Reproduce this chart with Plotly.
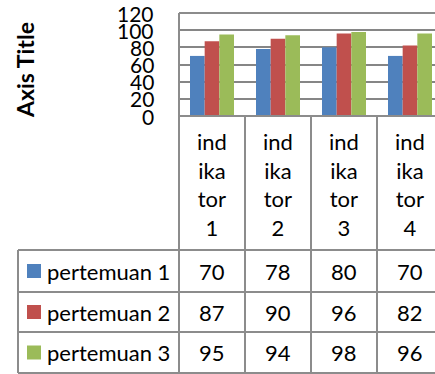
import plotly.graph_objects as go

# Chart data
categories = ["indikator 1", "indikator 2", "indikator 3", "indikator 4"]
series_names = ["pertemuan 1", "pertemuan 2", "pertemuan 3"]
pertemuan_1 = [70, 78, 80, 70]
pertemuan_2 = [87, 90, 96, 82]
pertemuan_3 = [95, 94, 98, 96]
y_ticks = [0, 20, 40, 60, 80, 100, 120]
axis_title = "Axis Title"

series_values = [pertemuan_1, pertemuan_2, pertemuan_3]
colors = ["#4F81BD", "#C0504D", "#9BBB59"]

# Page geometry (pixels)
W, H = 435, 374
PLOT_L, PLOT_T, PLOT_B = 179, 13, 116
COL_W = 66
TABLE_L = 18
ROW_LINES = [250, 292, 332, 373]
LINE_C = "#8C8C8C"
GRID_C = "#868686"
FONT = "Lato"
FS = 22


def px(x):
    return x / W


def py(y):
    return 1 - y / H


def wrap_label(text):
    word, num = text.split(" ")
    parts = [word[i:i + 3] for i in range(0, len(word), 3)]
    return "<br>".join(parts + [num])


x_idx = list(range(len(categories)))
x_max = -0.5 + (W - PLOT_L) / COL_W

fig = go.Figure()
for name, vals, col in zip(series_names, series_values, colors):
    fig.add_trace(go.Bar(x=x_idx, y=vals, name=name, marker=dict(color=col, line=dict(width=0))))

fig.update_layout(
    width=W, height=H,
    margin=dict(l=0, r=0, t=0, b=0),
    paper_bgcolor="white", plot_bgcolor="white",
    showlegend=False,
    barmode="group", bargap=1 / 3, bargroupgap=0,
    font=dict(family=FONT, size=FS, color="black"),
    xaxis=dict(domain=[px(PLOT_L), 1], range=[-0.5, x_max], showticklabels=False,
               showgrid=False, zeroline=False, showline=False, fixedrange=True),
    yaxis=dict(domain=[py(PLOT_B), py(PLOT_T)], range=[0, 120], tickvals=y_ticks,
               showticklabels=False, showgrid=True, gridcolor=GRID_C,
               gridwidth=1.5, zeroline=False, showline=False, ticks=""),
)

shapes = []


def hline(y, x0, x1, w=2):
    shapes.append(dict(type="line", xref="paper", yref="paper", x0=px(x0), x1=px(x1),
                       y0=py(y), y1=py(y), line=dict(color=LINE_C, width=w)))


def vline(x, y0, y1, w=2):
    shapes.append(dict(type="line", xref="paper", yref="paper", x0=px(x), x1=px(x),
                       y0=py(y0), y1=py(y1), line=dict(color=LINE_C, width=w)))


# plot frame top and axis
hline(PLOT_T, PLOT_L, W)
hline(PLOT_B, PLOT_L, W)
vline(PLOT_L, PLOT_T, ROW_LINES[-1])
# data table grid
for y in ROW_LINES:
    hline(y, TABLE_L, W)
vline(TABLE_L, ROW_LINES[0], ROW_LINES[-1])
for i in range(1, len(categories)):
    xb = PLOT_L + i * COL_W
    if xb < W:
        vline(xb, PLOT_B, ROW_LINES[-1])

annotations = []
# value axis labels
for t in y_ticks:
    annotations.append(dict(x=px(156), xref="paper", y=t, yref="y", text=str(t),
                            showarrow=False, xanchor="right", yanchor="middle",
                            font=dict(family=FONT, size=21, color="black")))
# column headers
for i, c in enumerate(categories):
    annotations.append(dict(x=i, xref="x", y=py(184), yref="paper",
                            text=wrap_label(c), showarrow=False, xanchor="center",
                            yanchor="middle", align="center",
                            font=dict(family=FONT, size=FS, color="black")))
# table rows
for r, (name, vals, col) in enumerate(zip(series_names, series_values, colors)):
    yc = (ROW_LINES[r] + ROW_LINES[r + 1]) / 2
    shapes.append(dict(type="rect", xref="paper", yref="paper", x0=px(27), x1=px(41),
                       y0=py(yc + 7), y1=py(yc - 7), fillcolor=col, line=dict(width=0)))
    annotations.append(dict(x=px(45), xref="paper", y=py(yc), yref="paper", text=name,
                            showarrow=False, xanchor="left", yanchor="middle",
                            font=dict(family=FONT, size=FS, color="black")))
    for i, v in enumerate(vals):
        annotations.append(dict(x=i, xref="x", y=py(yc), yref="paper", text=str(v),
                                showarrow=False, xanchor="center", yanchor="middle",
                                font=dict(family=FONT, size=FS, color="black")))

annotations.append(dict(x=px(25), xref="paper", y=py(70), yref="paper", text="<b>" + axis_title + "</b>",
                        textangle=-90, showarrow=False, xanchor="center", yanchor="middle",
                        font=dict(family=FONT, size=23, color="black")))

fig.update_layout(shapes=shapes, annotations=annotations)
fig.write_html("out.html")
